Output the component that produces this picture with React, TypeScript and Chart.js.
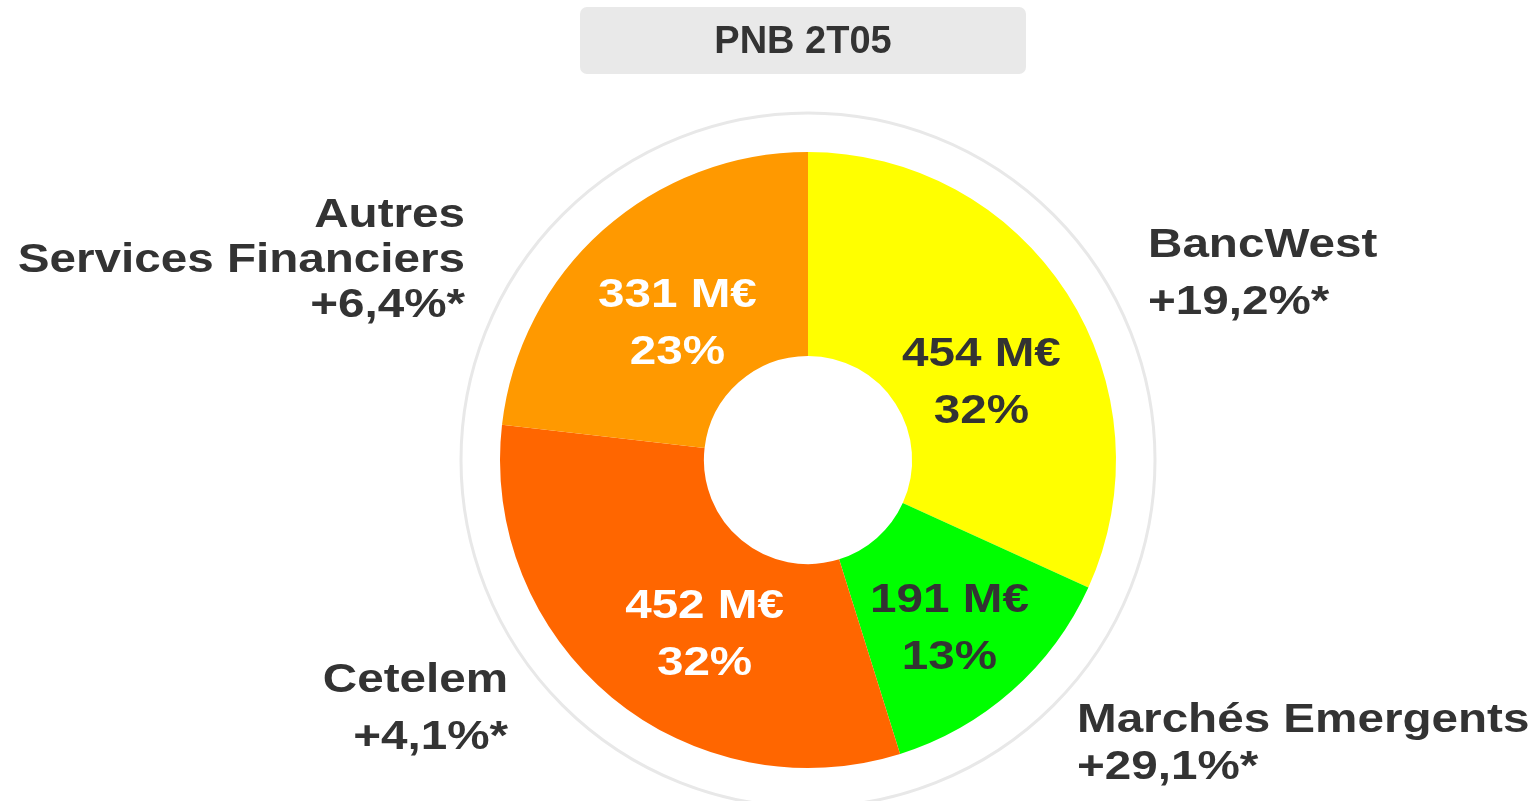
import React, { useEffect, useRef } from "react";
import { Chart, registerables } from "chart.js";

Chart.register(...registerables);

// ---- data ----
const segments = ["BancWest", "Marchés Emergents", "Cetelem", "Autres Services Financiers"];
const pnbValues = [454, 191, 452, 331];
const pnbShares = ["32%", "13%", "32%", "23%"];
const growthLabels = ["+19,2%*", "+29,1%*", "+4,1%*", "+6,4%*"];
const outerNameLines = [["BancWest"], ["Marchés Emergents"], ["Cetelem"], ["Autres", "Services Financiers"]];
const sliceColors = ["#FFFF00", "#00FF00", "#FF6600", "#FF9900"];
const innerTextColors = ["#333333", "#333333", "#FFFFFF", "#FFFFFF"];
const chartTitle = "PNB 2T05";

// ---- layout (styling only) ----
const W = 1537;
const H = 801;
const FONT = '700 40px "Liberation Sans", Arial, sans-serif';
const STRETCH = 1.19;
const TEXT_DARK = "#333333";
const TEXT_SHIFT = 3;
// inner label placement: angle nudge (deg) from slice mid-angle, radius px
const innerAngleNudge = [8, 1, -8.6, -1.4];
const innerRadius = [191, 218, 201, 191];
// outside label anchors relative to chart centre: dx, first line dy, line gap, align
const outerAnchors = [
  { dx: 340, dy: -217, gap: 57, align: "left" },
  { dx: 269, dy: 258, gap: 47, align: "left" },
  { dx: -300, dy: 218, gap: 57, align: "right" },
  { dx: -343, dy: -247, gap: 45, align: "right" },
];

function drawStretched(ctx: CanvasRenderingContext2D, text: string, x: number, y: number, align: CanvasTextAlign) {
  ctx.save();
  ctx.translate(x, y + TEXT_SHIFT);
  ctx.scale(STRETCH, 1);
  ctx.textAlign = align;
  ctx.textBaseline = "middle";
  ctx.fillText(text, 0, 0);
  ctx.restore();
}

const decorPlugin = {
  id: "decor",
  beforeDatasetsDraw(chart: any) {
    const ctx: CanvasRenderingContext2D = chart.ctx;
    const arc = chart.getDatasetMeta(0).data[0];
    if (!arc) return;
    const { x, y, outerRadius } = arc.getProps(["x", "y", "outerRadius"], true);
    ctx.save();
    ctx.beginPath();
    ctx.arc(x, y, outerRadius + 39, 0, Math.PI * 2);
    ctx.strokeStyle = "#E8E8E8";
    ctx.lineWidth = 3;
    ctx.stroke();
    ctx.restore();
  },
  afterDatasetsDraw(chart: any) {
    const ctx: CanvasRenderingContext2D = chart.ctx;
    const meta = chart.getDatasetMeta(0);
    // title box
    ctx.save();
    ctx.fillStyle = "#E9E9E9";
    ctx.beginPath();
    (ctx as any).roundRect(580, 7, 446, 67, 7);
    ctx.fill();
    ctx.fillStyle = TEXT_DARK;
    ctx.font = '700 38px "Liberation Sans", Arial, sans-serif';
    ctx.textAlign = "center";
    ctx.textBaseline = "middle";
    ctx.fillText(chartTitle, 803, 43);
    ctx.restore();

    ctx.save();
    ctx.font = FONT;
    meta.data.forEach((el: any, i: number) => {
      const { x, y, startAngle, endAngle } = el.getProps(["x", "y", "startAngle", "endAngle"], true);
      const mid = (startAngle + endAngle) / 2 + (innerAngleNudge[i] * Math.PI) / 180;
      const cx = x + Math.cos(mid) * innerRadius[i];
      const cy = y + Math.sin(mid) * innerRadius[i];
      ctx.fillStyle = innerTextColors[i];
      drawStretched(ctx, `${pnbValues[i]} M€`, cx, cy - 28, "center");
      drawStretched(ctx, pnbShares[i], cx, cy + 29, "center");

      const a = outerAnchors[i];
      ctx.fillStyle = TEXT_DARK;
      const lines = [...outerNameLines[i], growthLabels[i]];
      lines.forEach((ln, k) => {
        drawStretched(ctx, ln, x + a.dx, y + a.dy + k * a.gap, a.align as CanvasTextAlign);
      });
    });
    ctx.restore();
  },
};

export default function App() {
  const ref = useRef<HTMLCanvasElement | null>(null);
  useEffect(() => {
    if (!ref.current) return;
    const chart = new Chart(ref.current, {
      type: "doughnut",
      data: {
        labels: segments,
        datasets: [
          {
            data: pnbValues,
            backgroundColor: sliceColors,
            borderWidth: 0,
          },
        ],
      },
      options: {
        responsive: false,
        animation: false,
        cutout: "33.8%",
        layout: { padding: { left: 500, right: 421, top: 152, bottom: 33 } },
        plugins: {
          legend: { display: false },
          tooltip: { enabled: false },
          title: { display: false },
        },
      },
      plugins: [decorPlugin],
    });
    return () => chart.destroy();
  }, []);
  return (
    <div style={{ position: "fixed", left: 0, top: 0, width: W, height: H, background: "#fff" }}>
      <canvas ref={ref} width={W} height={H} style={{ width: W, height: H, display: "block" }} />
    </div>
  );
}
